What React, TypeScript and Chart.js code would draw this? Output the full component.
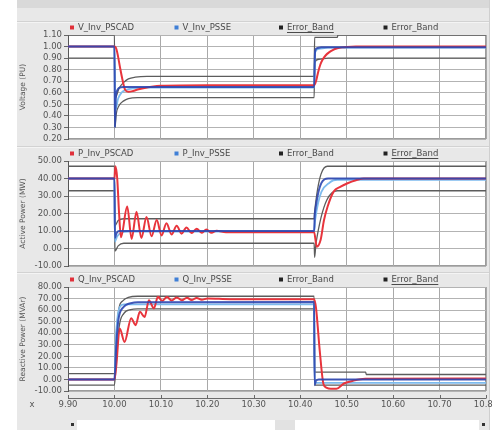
import React, { useEffect, useRef } from "react";
import { Chart, registerables } from "chart.js";
Chart.register(...registerables);

// ---------- shared axis values ----------
const timeTicks = [9.9, 10.0, 10.1, 10.2, 10.3, 10.4, 10.5, 10.6, 10.7, 10.8];
const voltTicks = [0.2, 0.3, 0.4, 0.5, 0.6, 0.7, 0.8, 0.9, 1.0, 1.1];
const activeTicks = [-10, 0, 10, 20, 30, 40, 50];
const reactiveTicks = [-10, 0, 10, 20, 30, 40, 50, 60, 70, 80];

const vLegend = ["V_Inv_PSCAD", "V_Inv_PSSE", "Error_Band", "Error_Band"];
const pLegend = ["P_Inv_PSCAD", "P_Inv_PSSE", "Error_Band", "Error_Band"];
const qLegend = ["Q_Inv_PSCAD", "Q_Inv_PSSE", "Error_Band", "Error_Band"];

// ---------- Voltage panel ----------
const tVPscad = [9.9, 10.0, 10.003, 10.007, 10.012, 10.018, 10.023, 10.03, 10.04, 10.05, 10.065, 10.08, 10.1, 10.2, 10.43, 10.434, 10.438, 10.443, 10.448, 10.455, 10.462, 10.47, 10.48, 10.49, 10.5, 10.52, 10.8];
const vPscad = [1.0, 1.0, 0.99, 0.93, 0.82, 0.70, 0.625, 0.608, 0.615, 0.628, 0.642, 0.652, 0.66, 0.665, 0.665, 0.70, 0.77, 0.84, 0.885, 0.925, 0.95, 0.97, 0.985, 0.993, 0.997, 1.0, 1.0];
const tVPsse = [9.9, 10.0, 10.001, 10.003, 10.006, 10.01, 10.02, 10.43, 10.432, 10.436, 10.445, 10.8];
const vPsse = [1.0, 1.0, 0.30, 0.56, 0.62, 0.642, 0.65, 0.65, 0.96, 0.985, 0.995, 0.995];
const tVAlt = [9.9, 10.0, 10.002, 10.008, 10.015, 10.025, 10.04, 10.06, 10.43, 10.432, 10.44, 10.46, 10.8];
const vAlt = [1.0, 1.0, 0.45, 0.55, 0.60, 0.625, 0.638, 0.645, 0.645, 0.95, 0.98, 0.99, 0.99];
const tVUp = [9.9, 10.0, 10.001, 10.01, 10.02, 10.03, 10.045, 10.07, 10.43, 10.431, 10.48, 10.481, 10.8];
const vUp = [1.1, 1.1, 0.55, 0.64, 0.69, 0.72, 0.735, 0.742, 0.742, 1.08, 1.08, 1.1, 1.1];
const tVLo = [9.9, 10.0, 10.001, 10.004, 10.01, 10.02, 10.03, 10.05, 10.43, 10.431, 10.44, 10.46, 10.8];
const vLo = [0.9, 0.9, 0.30, 0.42, 0.49, 0.53, 0.55, 0.558, 0.558, 0.86, 0.89, 0.9, 0.9];

// ---------- Active power panel ----------
const tPPscad = [9.9, 10.0, 10.002, 10.006, 10.010, 10.014, 10.0275, 10.037, 10.0475, 10.058, 10.069, 10.080, 10.091, 10.1015, 10.112, 10.123, 10.134, 10.1445, 10.155, 10.166, 10.177, 10.1875, 10.198, 10.209, 10.22, 10.24, 10.43, 10.4355, 10.444, 10.451, 10.459, 10.472, 10.487, 10.502, 10.52, 10.537, 10.8];
const pPscad = [40, 40, 47, 40, 20, 6.5, 24, 5.5, 21, 6, 18, 7, 16.3, 7.5, 14.5, 8, 13, 8.5, 12, 8.8, 11.3, 9, 10.8, 9, 10.2, 9.3, 9.3, 1, 5, 16, 24, 32.5, 35.3, 37.3, 39, 40, 40];
const tPPsse = [9.9, 10.0, 10.001, 10.004, 10.01, 10.43, 10.4315, 10.46, 10.8];
const pPsse = [40, 40, 6, 8.5, 10, 10, 20, 40, 40];
const tPAlt = [9.9, 10.0, 10.001, 10.006, 10.015, 10.03, 10.43, 10.432, 10.465, 10.48, 10.8];
const pAlt = [40, 40, 4, 7, 9, 9.6, 9.6, 16, 38, 39.3, 39.3];
const tPUp = [9.9, 10.0, 10.001, 10.008, 10.02, 10.43, 10.431, 10.4585, 10.8];
const pUp = [47, 47, 13, 16, 17, 17, 21, 47, 47];
const tPLo = [9.9, 10.0, 10.001, 10.008, 10.02, 10.43, 10.431, 10.434, 10.48, 10.8];
const pLo = [33, 33, -1.5, 1.5, 3, 3, -5, 3, 33, 33];

// ---------- Reactive power panel ----------
const tQPscad = [9.9, 10.0, 10.004, 10.0113, 10.0218, 10.036, 10.0455, 10.0548, 10.065, 10.0742, 10.085, 10.0935, 10.103, 10.113, 10.123, 10.134, 10.145, 10.156, 10.166, 10.177, 10.188, 10.2, 10.25, 10.43, 10.434, 10.442, 10.45, 10.456, 10.466, 10.478, 10.494, 10.515, 10.54, 10.8];
const qPscad = [0, 0, 12, 44, 32.5, 53, 47, 58.5, 54, 68.5, 61.5, 71.5, 68, 71.3, 68.3, 71, 68.5, 70.8, 68.7, 70.5, 69, 70, 69.5, 69.5, 62, 25, -4, -7, -8, -8, -3.5, -1, 0.5, 0.8];
const tQPsse = [9.9, 10.0, 10.004, 10.008, 10.012, 10.018, 10.025, 10.035, 10.05, 10.43, 10.431, 10.434, 10.44, 10.8];
const qPsse = [0, 0, 30, 50, 58, 62, 64.5, 66, 66.8, 67, -5, -1, 0, 0];
const tQAlt = [9.9, 10.0, 10.003, 10.007, 10.012, 10.02, 10.04, 10.43, 10.431, 10.44, 10.8];
const qAlt = [0, 0, 35, 55, 63, 65, 65, 65, -3, -3, -3];
const tQUp = [9.9, 10.0, 10.004, 10.01, 10.018, 10.03, 10.05, 10.43, 10.431, 10.541, 10.542, 10.8];
const qUp = [5, 5, 40, 62, 68, 71, 72, 72, 6.4, 6.4, 4.3, 4.3];
const tQLo = [9.9, 10.0, 10.003, 10.01, 10.02, 10.035, 10.05, 10.43, 10.431, 10.8];
const qLo = [-5, -5, 10, 45, 57, 60.5, 61, 61, -5, -5];

const FONT = '"DejaVu Sans", sans-serif';
const zip = (t: number[], v: number[]) => t.map((x, i) => ({ x, y: v[i] }));

type PanelSpec = {
  top: number;
  height: number;
  padTop: number;
  padBottom: number;
  bottomAxis: boolean;
  title: string;
  legend: string[];
  underline: number;
  yTicks: number[];
  series: { t: number[]; v: number[] }[];
};

const panels: PanelSpec[] = [
  {
    top: 0, height: 146, padTop: 35, padBottom: 7, bottomAxis: false,
    title: "Voltage (PU)", legend: vLegend, underline: 2, yTicks: voltTicks,
    series: [
      { t: tVPsse, v: vPsse }, { t: tVPscad, v: vPscad }, { t: tVAlt, v: vAlt },
      { t: tVUp, v: vUp }, { t: tVLo, v: vLo },
    ],
  },
  {
    top: 146, height: 126, padTop: 15, padBottom: 6, bottomAxis: false,
    title: "Active Power (MW)", legend: pLegend, underline: 3, yTicks: activeTicks,
    series: [
      { t: tPPsse, v: pPsse }, { t: tPPscad, v: pPscad }, { t: tPAlt, v: pAlt },
      { t: tPUp, v: pUp }, { t: tPLo, v: pLo },
    ],
  },
  {
    top: 272, height: 146, padTop: 15, padBottom: 3, bottomAxis: true,
    title: "Reactive Power (MVAr)", legend: qLegend, underline: 3, yTicks: reactiveTicks,
    series: [
      { t: tQPsse, v: qPsse }, { t: tQPscad, v: qPscad }, { t: tQAlt, v: qAlt },
      { t: tQUp, v: qUp }, { t: tQLo, v: qLo },
    ],
  },
];

const seriesStyle = [
  { color: "rgba(44,70,176,0.9)", width: 2 },
  { color: "#e8343c", width: 2 },
  { color: "#7dbbee", width: 1.8 },
  { color: "#5c5c5c", width: 1.3 },
  { color: "#5c5c5c", width: 1.3 },
];
const legendColors = ["#e0303a", "#3f7fd6", "#222222", "#222222"];

function decorPlugin(p: PanelSpec) {
  return {
    id: "panelDecor",
    beforeDraw(chart: any) {
      const { ctx, chartArea: a } = chart;
      ctx.save();
      ctx.fillStyle = "#ffffff";
      ctx.fillRect(a.left, a.top, a.right - a.left, a.bottom - a.top);
      ctx.strokeStyle = "#9c9c9c";
      ctx.lineWidth = 1;
      ctx.strokeRect(a.left + 0.5, a.top + 0.5, a.right - a.left - 1, a.bottom - a.top - 1);
      ctx.restore();
    },
    afterDraw(chart: any) {
      const { ctx, chartArea: a } = chart;
      ctx.save();
      ctx.font = "8.5px " + FONT;
      ctx.textBaseline = "middle";
      ctx.textAlign = "left";
      const colW = (a.right - a.left) / 4;
      const y = a.top - 7.5;
      p.legend.forEach((label, i) => {
        const x = a.left + 2 + i * colW;
        ctx.fillStyle = legendColors[i];
        ctx.fillRect(x, y - 2, 4, 4);
        ctx.fillStyle = "#4a4a4a";
        ctx.fillText(label, x + 8, y + 0.5);
        if (i === p.underline) {
          const w = ctx.measureText(label).width;
          ctx.fillRect(x + 8, y + 4.5, w, 1);
        }
      });
      if (p.bottomAxis) {
        const xs = chart.scales.x;
        const ya = a.bottom + 7;
        ctx.strokeStyle = "#6a6a6a";
        ctx.lineWidth = 1;
        ctx.beginPath();
        ctx.moveTo(a.left, ya + 0.5);
        ctx.lineTo(a.right, ya + 0.5);
        xs.ticks.forEach((t: any) => {
          const px = Math.round(xs.getPixelForValue(t.value)) + 0.5;
          ctx.moveTo(px, ya - 3);
          ctx.lineTo(px, ya + 0.5);
        });
        ctx.stroke();
        ctx.fillStyle = "#555";
        ctx.textAlign = "center";
        ctx.fillText("x", 32, ya + 7);
      }
      ctx.restore();
    },
  };
}

function buildChart(canvas: HTMLCanvasElement, p: PanelSpec) {
  return new Chart(canvas, {
    type: "line",
    data: {
      datasets: p.series.map((s, i) => ({
        data: zip(s.t, s.v),
        borderColor: seriesStyle[i].color,
        borderWidth: seriesStyle[i].width,
        pointRadius: 0,
        fill: false,
        cubicInterpolationMode: "monotone",
      })),
    },
    options: {
      animation: false,
      responsive: false,
      events: [],
      layout: { autoPadding: false, padding: { top: p.padTop, bottom: p.padBottom, left: 0, right: 7 } },
      plugins: { legend: { display: false }, tooltip: { enabled: false } },
      elements: { line: { borderJoinStyle: "round" } },
      scales: {
        x: {
          type: "linear",
          min: 9.9,
          max: 10.8,
          afterBuildTicks: (s: any) => {
            s.ticks = timeTicks.map((v) => ({ value: v }));
          },
          ticks: {
            display: p.bottomAxis,
            autoSkip: false,
            maxRotation: 0,
            padding: 9,
            color: "#555",
            font: { family: FONT, size: 8.5 },
            callback: (v: any) => Number(v).toFixed(2),
          },
          grid: { color: "#a9a9a9", drawTicks: false, lineWidth: 1 },
          border: { display: false },
          afterFit: (s: any) => {
            s.height = p.bottomAxis ? 24 : 0;
            s.paddingLeft = 0;
            s.paddingRight = 0;
            s.paddingTop = 0;
            s.paddingBottom = 0;
          },
        },
        y: {
          type: "linear",
          min: p.yTicks[0],
          max: p.yTicks[p.yTicks.length - 1],
          afterBuildTicks: (s: any) => {
            s.ticks = p.yTicks.map((v) => ({ value: v }));
          },
          ticks: {
            autoSkip: false,
            padding: 2,
            color: "#555",
            font: { family: FONT, size: 8.5 },
            callback: (v: any) => Number(v).toFixed(2),
          },
          grid: { color: "#b3b3b3", tickLength: 4, tickColor: "#666" },
          border: { display: true, color: "#555", width: 1 },
          title: {
            display: true,
            text: p.title,
            color: "#555",
            font: { family: FONT, size: 7.5 },
            padding: { top: 19, bottom: 0 },
          },
          afterFit: (s: any) => {
            s.width = 68;
            s.paddingTop = 0;
            s.paddingBottom = 0;
          },
        },
      },
    } as any,
    plugins: [decorPlugin(p)],
  });
}

export default function App() {
  const r0 = useRef<HTMLCanvasElement>(null);
  const r1 = useRef<HTMLCanvasElement>(null);
  const r2 = useRef<HTMLCanvasElement>(null);
  const refs = [r0, r1, r2];

  useEffect(() => {
    const charts = panels.map((p, i) => buildChart(refs[i].current as HTMLCanvasElement, p));
    return () => charts.forEach((c) => c.destroy());
  }, []);

  const line = (top: number, color: string) => (
    <div key={"l" + top + color} style={{ position: "absolute", left: 17, top, width: 473, height: 1, background: color }} />
  );

  return (
    <div style={{ position: "absolute", left: 0, top: 0, width: 493, height: 430, background: "#ffffff", overflow: "hidden" }}>
      <div style={{ position: "absolute", left: 17, top: 0, width: 473, height: 430, background: "#e8e8e8" }} />
      <div style={{ position: "absolute", left: 17, top: 0, width: 473, height: 8, background: "#d9d9d9" }} />
      {line(21, "#d2d2d2")}
      {line(22, "#f4f4f4")}
      {line(146, "#d2d2d2")}
      {line(147, "#f4f4f4")}
      {line(272, "#d2d2d2")}
      {line(273, "#f4f4f4")}
      <div style={{ position: "absolute", left: 489, top: 0, width: 1, height: 430, background: "#cfcfcf" }} />
      <div style={{ position: "absolute", left: 77, top: 420, width: 402, height: 10, background: "#ffffff" }} />
      <div style={{ position: "absolute", left: 275, top: 420, width: 20, height: 10, background: "#e2e2e2" }} />
      <div style={{ position: "absolute", left: 71, top: 423, width: 3, height: 3, background: "#333" }} />
      <div style={{ position: "absolute", left: 482, top: 423, width: 3, height: 3, background: "#333" }} />
      {panels.map((p, i) => (
        <canvas
          key={i}
          ref={refs[i]}
          width={493}
          height={p.height}
          style={{ position: "absolute", left: 0, top: p.top, width: 493, height: p.height }}
        />
      ))}
    </div>
  );
}
